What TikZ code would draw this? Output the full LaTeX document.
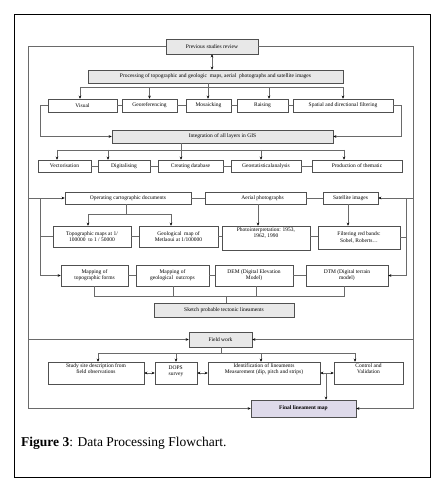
\documentclass[tikz,border=0pt]{standalone}
\usepackage{fontspec}
\setmainfont{Liberation Serif}
\usetikzlibrary{arrows.meta}
\definecolor{boxline}{HTML}{505050}
\definecolor{connline}{HTML}{6A6A6A}
\definecolor{gfill}{HTML}{E8E8E8}
\definecolor{lav}{HTML}{DEDAEA}
\tikzset{
  box/.style={draw=boxline, line width=0.55pt, inner sep=0pt, align=center,
    font=\fontsize{5.5}{6.2}\selectfont},
  gbox/.style={box, fill=gfill},
  conn/.style={draw=connline, line width=0.5pt},
  arr/.style={conn, -{Stealth[length=3pt,width=2.6pt,black]}},
  darr/.style={conn, {Stealth[length=3pt,width=2.6pt,black]}-{Stealth[length=3pt,width=2.6pt,black]}},
}
\begin{document}
\begin{tikzpicture}[x=1pt,y=-1pt]
\useasboundingbox (0,0) rectangle (438,486);
\fill[white] (0,0) rectangle (438,486);
\draw[line width=1pt] (14,15) rectangle (430,477);

% boxes
\node[gbox, minimum width=92, minimum height=15] (prev) at (212,46.5) {Previous studies review};
\node[gbox, minimum width=255, minimum height=13] (proc) at (215.5,76.5) {Processing of topographic and geologic \ maps, aerial \ photographs and satellite images};
\node[box, minimum width=69, minimum height=13] (visual) at (82.5,105.5) {Visual};
\node[box, minimum width=55, minimum height=13] (georef) at (149.5,105.5) {Georeferencing};
\node[box, minimum width=45, minimum height=13] (mosaic) at (208.5,105.5) {Mosaicking};
\node[box, minimum width=51, minimum height=13] (raising) at (262.5,105.5) {Raising};
\node[box, minimum width=100, minimum height=13] (spatial) at (343,105.5) {Spatial and directional filtering};
\node[gbox, minimum width=221, minimum height=13] (integ) at (222.5,136.5) {Integration of all layers in GIS};
\node[box, minimum width=53, minimum height=12] (vect) at (64.5,166) {Vectorisation};
\node[box, minimum width=52, minimum height=12] (digit) at (124,166) {Digitalising};
\node[box, minimum width=65, minimum height=12] (creat) at (190.5,166) {Creating database};
\node[box, minimum width=70, minimum height=12] (geost) at (266,166) {Geostatisticalanalysis};
\node[box, minimum width=90, minimum height=12] (prod) at (357,166) {Production of thematic};
\node[box, line width=0.7pt, minimum width=126, minimum height=12] (oper) at (128,198) {Operating cartographic documents};
\node[box, minimum width=101, minimum height=12] (aerial) at (255.5,198) {\hspace*{14pt}Aerial photographs};
\node[box, minimum width=55, minimum height=12] (sat) at (350.5,198) {Satellite images};
\node[box, minimum width=78, minimum height=21] (topo) at (92,236.5) {Topographic maps at 1/\\100000 \ to 1 / 50000};
\node[box, minimum width=79, minimum height=21] (geol) at (178.5,236.5) {Geological \ map of\\Metlaoui at 1/100000};
\node[box, minimum width=88, minimum height=24] (photo) at (266,238) {Photointerpretation: 1953,\\1962, 1990\\[4pt]};
\node[box, minimum width=82, minimum height=23] (filt) at (359,237.5) {Filtering red bands:\\Sobel, Roberts\dots};
\node[box, minimum width=67, minimum height=21] (maptopo) at (94.5,275.5) {Mapping of\\topographic forms};
\node[box, minimum width=73, minimum height=21] (mapgeol) at (172.5,275.5) {Mapping of\\geological \ outcrops};
\node[box, minimum width=78, minimum height=21] (dem) at (254,275.5) {DEM (Digital Elevation\\Model)};
\node[box, minimum width=82, minimum height=21] (dtm) at (347,275.5) {DTM (Digital terrain\\model)};
\node[gbox, minimum width=140, minimum height=14] (sketch) at (224,310) {Sketch probable tectonic lineaments};
\node[gbox, minimum width=63, minimum height=15] (field) at (220.5,339.5) {Field work};
\node[box, minimum width=96, minimum height=22] (study) at (96,373) {Study site description from\\field observations\\[3pt]};
\node[box, minimum width=42, minimum height=22] (dops) at (176,373) {\begin{tabular}{@{}l@{}}DOPS\\survey\end{tabular}\\[3pt]};
\node[box, minimum width=112, minimum height=22] (ident) at (264,373) {Identification of lineaments\\Measurement (dip, pitch and strips)\\[3pt]};
\node[box, minimum width=69, minimum height=22] (control) at (368.5,373) {Control and\\Validation\\[3pt]};
\node[box, fill=lav, minimum width=105, minimum height=17] (final) at (303.5,408.5) {\textbf{Final lineament map}};

% outer loop
\coordinate (L1) at (28,46.5);
\coordinate (R1) at (413,46.5);
\draw[arr] (prev.west) -- (L1) -- (L1 |- final.west) -- (final.west);
\draw[arr] (prev.east) -- (R1) -- (R1 |- final.east) -- (final.east);
\draw[arr] (oper.west -| L1) -- (oper.west);
\draw[arr] (field.west -| L1) -- (field.west);
\draw[arr] (sat.east -| R1) -- (sat.east);
\draw[arr] (field.east -| R1) -- (field.east);

% previous <-> processing
\draw[darr] (prev.south) -- (prev.south |- proc.north);

% processing distributor
\coordinate (da) at (80,87.5);
\coordinate (db) at (149.5,87.5);
\coordinate (dc) at (208,87.5);
\coordinate (dd) at (269,87.5);
\coordinate (de) at (343,87.5);
\draw[conn] (da) -- (de);
\draw[conn] (proc.south -| dc) -- (dc);
\draw[arr] (da) -- (da |- visual.north);
\draw[arr] (db) -- (db |- georef.north);
\draw[arr] (dc) -- (dc |- mosaic.north);
\draw[arr] (dd) -- (dd |- raising.north);
\draw[arr] (de) -- (de |- spatial.north);
\draw[conn] (visual) -- (georef) (georef) -- (mosaic) (mosaic) -- (raising) (raising) -- (spatial);

% loops into integration
\coordinate (VL) at (40,105.5);
\coordinate (SR) at (401,105.5);
\draw[arr] (visual.west) -- (VL) -- (VL |- integ.west) -- (integ.west);
\draw[arr] (spatial.east) -- (SR) -- (SR |- integ.east) -- (integ.east);

% integration distributor
\coordinate (ea) at (57,150);
\coordinate (eb) at (108,150);
\coordinate (ec) at (181,150);
\coordinate (ed) at (261,150);
\coordinate (ee) at (344,150);
\draw[conn] (ea) -- (ee);
\draw[conn] (integ.south -| ec) -- (ec);
\draw[arr] (ea) -- (ea |- vect.north);
\draw[arr] (eb) -- (eb |- digit.north);
\draw[arr] (ec) -- (ec |- creat.north);
\draw[arr] (ed) -- (ed |- geost.north);
\draw[arr] (ee) -- (ee |- prod.north);
\draw[conn] (vect) -- (digit) (digit) -- (creat) (creat) -- (geost) (geost) -- (prod);

% documents row
\draw[conn] (oper) -- (aerial) (aerial) -- (sat);
\coordinate (OL) at (40,198);
\coordinate (OR) at (406,198);
\draw[arr] (OL) -- (OL |- maptopo.west) -- (maptopo.west);
\draw[conn] (OL |- topo.west) -- (topo.west);
\draw[arr] (OR) -- (OR |- dtm.east) -- (dtm.east);
\draw[conn] (filt.east) -- (filt.east -| OR);

\coordinate (ob) at (126,214);
\coordinate (oba) at (88,214);
\coordinate (obb) at (171,214);
\draw[conn] (oper.south -| ob) -- (ob);
\draw[conn] (oba) -- (obb);
\draw[arr] (oba) -- (oba |- topo.north);
\draw[arr] (obb) -- (obb |- geol.north);
\coordinate (ap) at (258,204);
\draw[arr] (aerial.south -| ap) -- (photo.north -| ap);
\coordinate (sp) at (348,204);
\draw[arr] (sat.south -| sp) -- (filt.north -| sp);
\draw[conn] (topo) -- (geol) (geol.east) -- (geol.east -| photo.west);
\draw[conn] (photo.east |- 0,236) -- (filt.west |- 0,236);

% mapping row
\draw[conn] (maptopo) -- (mapgeol) (mapgeol) -- (dem) (dem) -- (dtm);
\coordinate (ma) at (94,296);
\coordinate (mb) at (173,296);
\coordinate (mc) at (256,296);
\coordinate (md) at (344,296);
\coordinate (mj) at (226,296);
\draw[conn] (maptopo.south -| ma) -- (ma) -- (md) -- (dtm.south -| md);
\draw[conn] (mapgeol.south -| mb) -- (mb);
\draw[conn] (dem.south -| mc) -- (mc);
\draw[conn] (mj) -- (sketch.north -| mj);

% field work distributor
\coordinate (fj) at (221,353);
\coordinate (fa) at (98,353);
\coordinate (fb) at (176,353);
\coordinate (fc) at (261,353);
\coordinate (fd) at (355,353);
\draw[conn] (field.south -| fj) -- (fj);
\draw[conn] (fa) -- (fd);
\draw[arr] (fa) -- (fa |- study.north);
\draw[arr] (fb) -- (fb |- dops.north);
\draw[arr] (fc) -- (fc |- ident.north);
\draw[arr] (fd) -- (fd |- control.north);
\draw[darr] (study) -- (dops);
\draw[darr] (dops) -- (ident);
\draw[darr] (ident) -- (control);
\coordinate (iv) at (326,373);
\draw[arr] (iv) -- (iv |- final.north);

% caption
\node[anchor=west, inner sep=0pt, font=\fontsize{13.5}{15}\selectfont] (cap) at (21,443) {\textbf{Figure 3}: Data Processing Flowchart.};
\end{tikzpicture}
\end{document}
